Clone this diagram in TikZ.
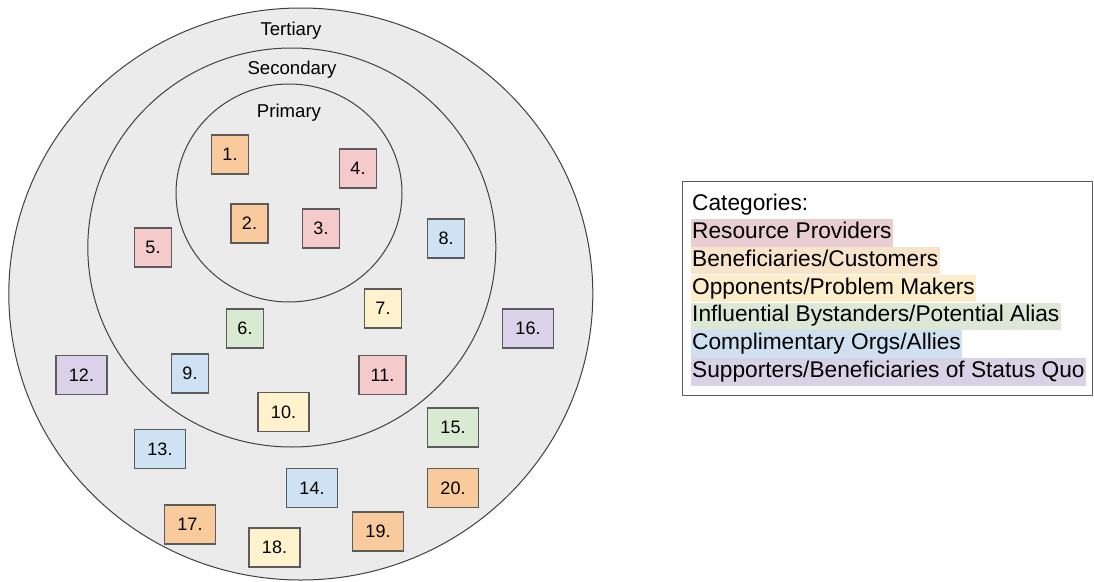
\documentclass[tikz,border=0pt]{standalone}
\usepackage{fontspec}
\setmainfont{Liberation Sans}
\usepackage{xcolor}
\usetikzlibrary{positioning}

\definecolor{ringgray}{HTML}{EBEBEB}
\definecolor{ringline}{HTML}{404040}
\definecolor{boxline}{HTML}{5B5B5B}
\definecolor{orangeF}{HTML}{F9CB9C}
\definecolor{pinkF}{HTML}{F4CACA}
\definecolor{yellowF}{HTML}{FFF2CC}
\definecolor{greenF}{HTML}{D9EAD3}
\definecolor{blueF}{HTML}{CFE2F3}
\definecolor{purpleF}{HTML}{D9D2E9}
\definecolor{hlRes}{HTML}{E8CDD2}
\definecolor{hlBen}{HTML}{F8E3CB}
\definecolor{hlOpp}{HTML}{FCEECA}
\definecolor{hlInf}{HTML}{DCE8D5}
\definecolor{hlCom}{HTML}{CFE0F0}
\definecolor{hlSup}{HTML}{D9D2E7}

\begin{document}
\begin{tikzpicture}[
    x=1pt, y=-1pt,
    ring/.style = {draw=ringline, fill=ringgray, line width=1pt},
    ringlabel/.style = {font=\fontsize{18.6}{22}\selectfont},
    stake/.style = {draw=boxline, line width=1.2pt, minimum width=37pt,
      minimum height=39pt, inner sep=0pt, font=\fontsize{18}{22}\selectfont},
    wide/.style = {minimum width=51pt},
    cat/.style = {anchor=west, inner xsep=1.3pt, inner ysep=3.15pt,
      text height=16.3pt, text depth=4.8pt, font=\fontsize{22.7}{27}\selectfont}]
    \useasboundingbox (0,0) rectangle (1094,581);

    % RINGS
    \coordinate (tertc) at (300.8,294);
    \coordinate (secc) at (291.8,247.5);
    \coordinate (primc) at (289,193);
    \draw[ring] (tertc) ellipse [x radius=292, y radius=286];
    \draw[ring] (secc) ellipse [x radius=204, y radius=199.5];
    \draw[ring] (primc) ellipse [x radius=113, y radius=109];
    % ring labels
    \node[ringlabel] (tert) at (291,31) {Tertiary};
    \node[ringlabel] (sec) at (292,70) {Secondary};
    \node[ringlabel] (prim) at (289,113) {Primary};

    % STAKEHOLDERS
    % primary
    \node[stake, fill=orangeF] (s1) at (230,154.5) {1.};
    \node[stake, fill=orangeF] (s2) at (249.5,223.5) {2.};
    \node[stake, fill=pinkF] (s3) at (321,228.5) {3.};
    \node[stake, fill=pinkF] (s4) at (358,168.5) {4.};
    % secondary
    \node[stake, fill=pinkF] (s5) at (153,247.5) {5.};
    \node[stake, fill=greenF] (s6) at (245,328.5) {6.};
    \node[stake, fill=yellowF] (s7) at (383,308.5) {7.};
    \node[stake, fill=blueF] (s8) at (446,238.5) {8.};
    \node[stake, fill=blueF] (s9) at (190,373.5) {9.};
    \node[stake, wide, fill=yellowF] (s10) at (283.5,412) {10.};
    \node[stake, fill=pinkF, minimum width=47pt] (s11) at (382.5,375) {11.};
    % tertiary
    \node[stake, wide, fill=purpleF] (s12) at (81.5,375) {12.};
    \node[stake, wide, fill=blueF] (s13) at (160,449) {13.};
    \node[stake, wide, fill=blueF] (s14) at (312,488) {14.};
    \node[stake, wide, fill=greenF] (s15) at (453,427.5) {15.};
    \node[stake, wide, fill=purpleF] (s16) at (528,328.5) {16.};
    \node[stake, wide, fill=orangeF] (s17) at (190,524.5) {17.};
    \node[stake, wide, fill=yellowF] (s18) at (274.5,547.5) {18.};
    \node[stake, wide, fill=orangeF] (s19) at (378,531.5) {19.};
    \node[stake, wide, fill=orangeF] (s20) at (453,488) {20.};

    % LEGEND
    \node[draw=boxline, line width=1pt, minimum width=410pt, minimum height=214pt,
      anchor=north west] (legend) at (682,181) {};
    \node[cat] (head) at (690.7,205) {Categories:};
    \node[cat, fill=hlRes, below right=0pt of head.south west] (res) {Resource Providers};
    \node[cat, fill=hlBen, below right=0pt of res.south west] (ben) {Beneficiaries/Customers};
    \node[cat, fill=hlOpp, below right=0pt of ben.south west] (opp) {Opponents/Problem Makers};
    \node[cat, fill=hlInf, below right=0pt of opp.south west] (inf) {Influential Bystanders/Potential Alias};
    \node[cat, fill=hlCom, below right=0pt of inf.south west] (com) {Complimentary Orgs/Allies};
    \node[cat, fill=hlSup, below right=0pt of com.south west] (sup) {Supporters/Beneficiaries of Status Quo};
\end{tikzpicture}
\end{document}
